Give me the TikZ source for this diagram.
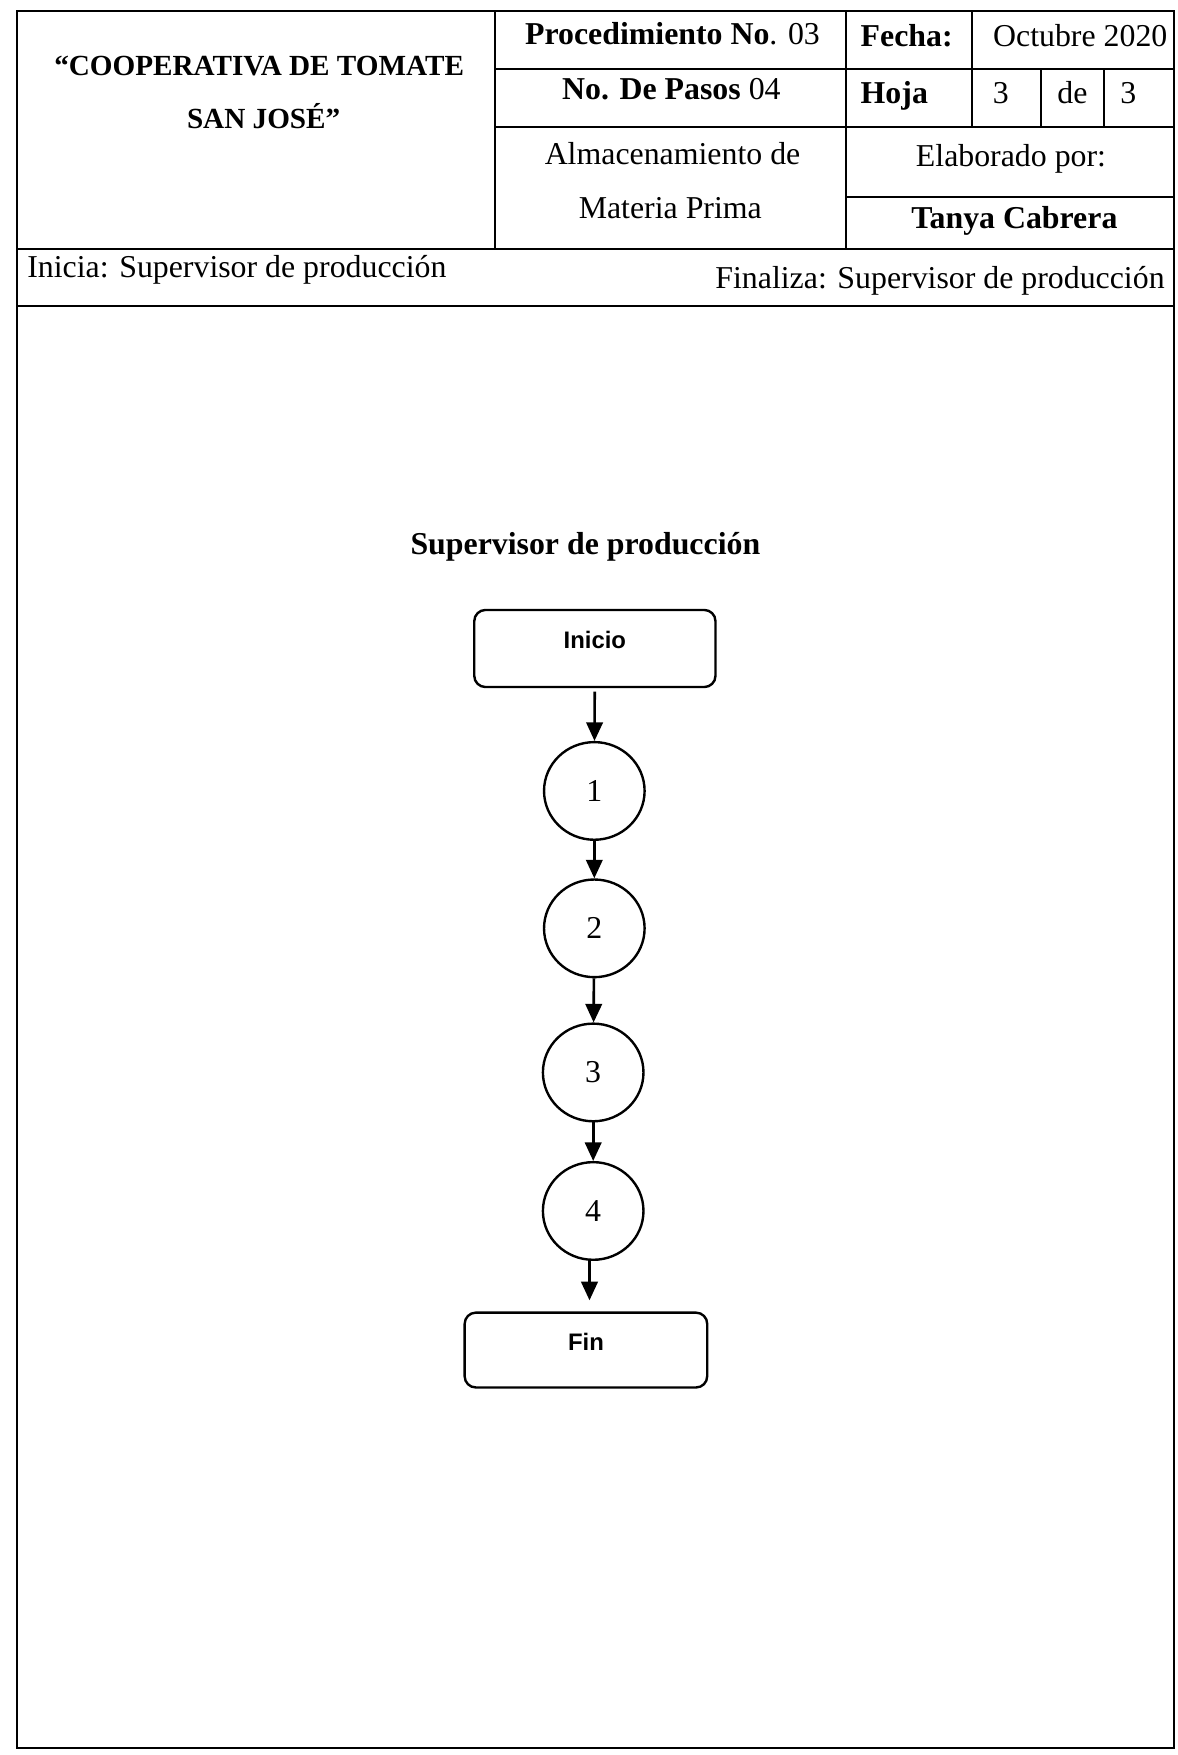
\documentclass[tikz,border=0pt]{standalone}
\usepackage{fontspec}
\setmainfont{Liberation Serif}
\newfontfamily\arialfont{Liberation Sans}
\usetikzlibrary{arrows.meta,shapes.geometric}
\begin{document}
\begin{tikzpicture}[x=0.421pt,y=-0.421pt,
  tline/.style={line width=0.8pt},
  txt/.style={inner sep=0pt,anchor=base,font=\fontsize{12}{14}\selectfont},
  ttl/.style={inner sep=0pt,anchor=base,font=\fontsize{11}{13}\selectfont\bfseries},
  termbox/.style={draw,line width=0.9pt,rounded corners=4.2pt,inner sep=0pt,
     minimum width=90.9pt,text height=14.52pt,text depth=14.52pt,
     font=\arialfont\fontsize{9}{11}\selectfont\bfseries},
  stepcirc/.style={draw,ellipse,line width=0.9pt,inner sep=0pt,
     minimum width=37.9pt,minimum height=36.8pt,font=\fontsize{12}{14}\selectfont},
  arr/.style={line width=1pt,-{Triangle[width=6.2pt,length=7pt]}}]
\useasboundingbox (0,0) rectangle (1054,1571);
\fill[white] (0,0) rectangle (1054,1571);
% table frame
\draw[tline] (15,10) rectangle (1051,1565);
\draw[tline] (443,10)--(443,223) (757,10)--(757,223) (870,10)--(870,114)
  (932,62)--(932,114) (988,62)--(988,114);
\draw[tline] (443,62)--(1051,62) (443,114)--(1051,114) (757,176)--(1051,176);
\draw[tline] (15,223)--(1051,223) (15,274)--(1051,274);
% header texts
\node[ttl] (t1) at (232,68) {“COOPERATIVA DE TOMATE};
\node[ttl] (t2) at (236,115) {SAN JOSÉ”};
\node[txt] (proc) at (602,40) {\textbf{Procedimiento No}. 03};
\node[txt] (pasos) at (601,89.5) {\textbf{No. De Pasos} 04};
\node[txt] (alm1) at (602,147) {Almacenamiento de};
\node[txt] (alm2) at (600,195.5) {Materia Prima};
\node[txt,anchor=base west] (fecha) at (770,42) {\textbf{Fecha:}};
\node[txt] (oct) at (967,42) {Octubre 2020};
\node[txt,anchor=base west] (hoja) at (770,92.5) {\textbf{Hoja}};
\node[txt] (h3a) at (896,92.5) {3};
\node[txt] (hde) at (960,92.5) {de};
\node[txt] (h3b) at (1010,92.5) {3};
\node[txt] (elab) at (905,149) {Elaborado por:};
\node[txt] (tanya) at (908,204.5) {\textbf{Tanya Cabrera}};
\node[txt,anchor=base west] (inicia) at (24,248) {Inicia: Supervisor de producción};
\node[txt,anchor=base east] (finaliza) at (1043,258) {Finaliza: Supervisor de producción};
% flowchart
\node[txt] (heading) at (524,496) {\textbf{Supervisor de producción}};
\node[termbox] (inicio) at (532.5,580.5) {Inicio};
\node[stepcirc] (c1) at (532,708) {1};
\node[stepcirc] (c2) at (532,831) {2};
\node[stepcirc] (c3) at (531,960) {3};
\node[stepcirc] (c4) at (531,1084) {4};
\node[termbox,minimum width=91.4pt,text height=14.1pt,text depth=14.1pt] (fin) at (524.5,1208.5) {Fin};
\draw[arr,shorten <=1.3pt] (inicio) -- (c1);
\draw[arr] (c1) -- (c2);
\draw[arr] (c2) -- (c3);
\draw[arr] (c3) -- (c4);
\draw[arr,shorten >=4.2pt] ([xshift=-1.4pt]c4.south) -- ([xshift=1.35pt]fin.north);
\end{tikzpicture}
\end{document}
